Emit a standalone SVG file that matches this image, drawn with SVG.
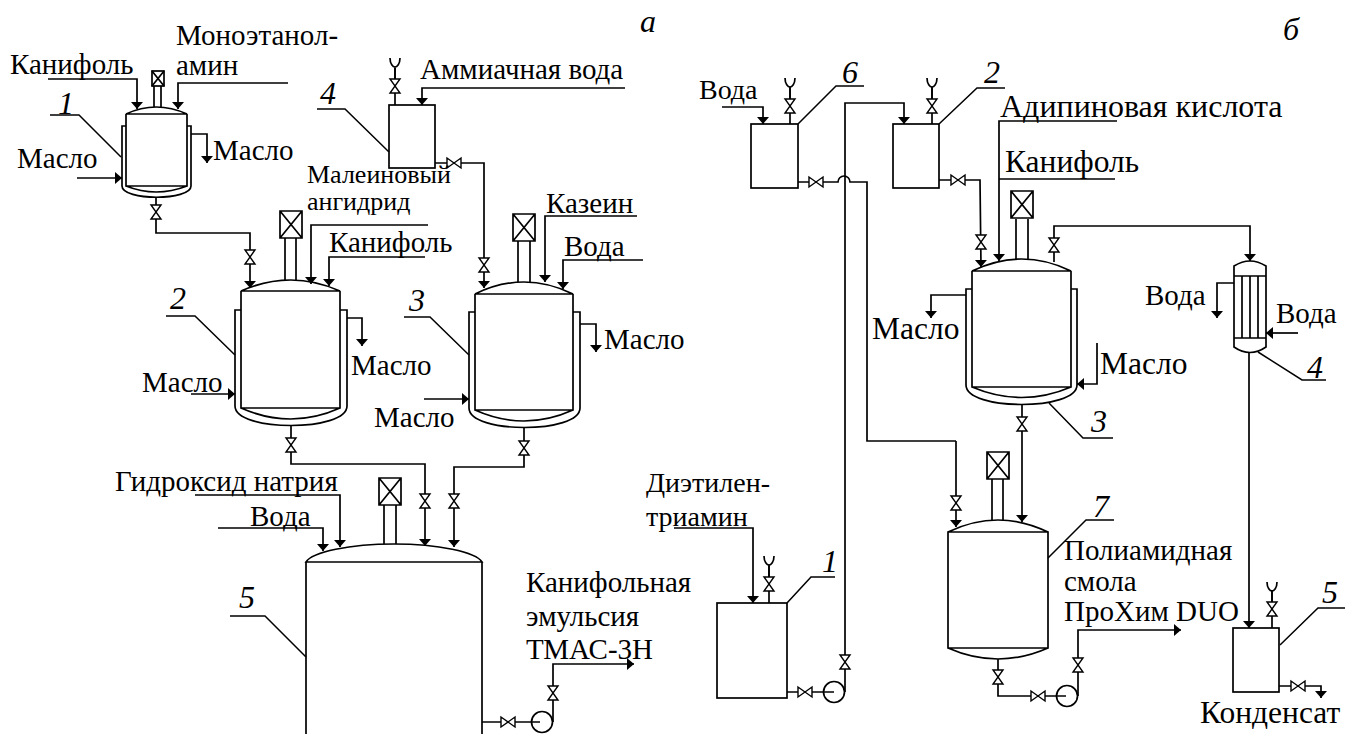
<svg xmlns="http://www.w3.org/2000/svg" width="1359" height="734" viewBox="0 0 1359 734">
<style>
text{font-family:"Liberation Serif","Times New Roman",serif;font-size:29px;fill:#000}
.n{font-style:italic;font-size:32px}
.m{font-size:26px}
.s{font-size:28px}
.l{font-size:31.5px}
path,rect,line,circle{fill:none;stroke:#000;stroke-width:1.7}
.a{marker-end:url(#ah)}
.t{stroke-width:1.5}
.v path{fill:#fff;stroke-width:1.4}
</style>
<defs>
<marker id="ah" markerUnits="userSpaceOnUse" markerWidth="14" markerHeight="14" refX="8" refY="7" orient="auto"><path d="M1 1L8 7L1 13Z" style="fill:#000;stroke:none"/></marker>
<g id="vv" class="v"><path d="M-5-7H5L-5 7H5Z"/></g>
<g id="hv" class="v"><path d="M-7-5V5L7-5V5Z"/></g>
<g id="fn"><path d="M-5 0C-5 6 -2 9 0 9C2 9 5 6 5 0M0 9V34"/></g>
<g id="mix"><path d="M-11 0H11V27H-11ZM-11 0L11 27M11 0L-11 27"/></g>
</defs>

<g id="legend">
<text class="n" x="640" y="32">а</text>
<text class="n" x="1283" y="40">б</text>
</g>

<g id="connectors">
<path class="a" d="M48 79H137V109"/>
<path class="a" d="M288 83H178V109"/>
<path class="a" d="M191 134H207V163"/>
<path class="a" d="M77 178H122"/>
<path class="a" d="M156 197V233H250V288"/>
<path class="a" d="M625 88H422V105"/>
<path d="M395 68V105"/>
<path class="a" d="M435 163H484V288"/>
<path class="a" d="M428 225H311V284"/>
<path class="a" d="M425 257H329V286"/>
<path class="a" d="M347 318H362V346"/>
<path class="a" d="M191 394H235"/>
<path class="a" d="M637 216H545V282"/>
<path class="a" d="M643 260H563V289"/>
<path class="a" d="M580 324H596V352"/>
<path class="a" d="M424 399H469"/>
<path class="a" d="M291 426V464H425V546"/>
<path class="a" d="M524 428V467H454V547"/>
<path class="a" d="M195 495H340V547"/>
<path class="a" d="M218 528H323V551"/>
<path d="M482 722H540"/>
<path class="a" d="M553 722V664H634"/>

<path class="a" d="M722 107H763V124"/>
<path class="a" d="M845 692V103H904V124"/>
<path d="M798 182H838A6 6 0 0 1 850 182H867V441H956"/>
<path class="a" d="M956 441V527"/>
<path class="a" d="M939 180H980L981 267"/>
<path class="a" d="M1117 121H999V261"/>
<path d="M999 179H1115"/>
<path class="a" d="M966 295H931V318"/>
<path class="a" d="M1054 262V226H1250V261"/>
<path class="a" d="M1097 343V384H1077"/>
<path class="a" d="M1022 405V522"/>
<path class="a" d="M1234 283H1217V318"/>
<path class="a" d="M1298 333H1266"/>
<path class="a" d="M1249 353V628"/>
<path class="a" d="M674 528H753V603"/>
<path d="M787 692H834"/>
<path d="M998 659V696H1066"/>
<path class="a" d="M1078 696V630H1181"/>
<path class="a" d="M1279 686H1321V698"/>
<path d="M769 565V603"/>
<path d="M932 87V124"/>
<path d="M790 87V124"/>
<path d="M1272 590V628"/>

<use href="#vv" x="156" y="212"/><use href="#vv" x="250" y="257"/>
<use href="#hv" x="454" y="163"/><use href="#vv" x="484" y="265"/>
<use href="#vv" x="291" y="445"/><use href="#vv" x="524" y="448"/>
<use href="#vv" x="425" y="501"/><use href="#vv" x="454" y="501"/>
<use href="#hv" x="508" y="722"/><use href="#vv" x="553" y="693"/>
<use href="#fn" x="395" y="58"/><use href="#vv" x="395" y="86"/>

<use href="#fn" x="790" y="78"/><use href="#vv" x="790" y="106"/>
<use href="#fn" x="932" y="78"/><use href="#vv" x="932" y="106"/>
<use href="#hv" x="816" y="182"/><use href="#hv" x="958" y="180"/>
<use href="#vv" x="981" y="242"/><use href="#vv" x="1054" y="245"/>
<use href="#vv" x="1022" y="424"/><use href="#vv" x="956" y="503"/>
<use href="#vv" x="845" y="662"/><use href="#hv" x="805" y="692"/>
<use href="#fn" x="769" y="556"/><use href="#vv" x="769" y="584"/>
<use href="#vv" x="998" y="677"/><use href="#hv" x="1038" y="696"/>
<use href="#vv" x="1078" y="665"/>
<use href="#fn" x="1272" y="582"/><use href="#vv" x="1272" y="609"/>
<use href="#hv" x="1298" y="686"/>
</g>

<g id="vessel-a1">
<path d="M126 114Q156 100 187 114ZM126 114V186H187V114M126 186Q156 198 187 186"/>
<path d="M126 126H122V186C122 201 191 201 191 186V126H187"/>
<rect x="152" y="71" width="12" height="15"/><path d="M152 71L164 86M164 71L152 86M154 86V107M161 86V107"/>
<path class="t" d="M50 115H79L121 157"/>
<text x="10" y="74">Канифоль</text>
<text x="176" y="45">Моноэтанол-</text>
<text x="176" y="75">амин</text>
<text x="17" y="168">Масло</text>
<text x="213" y="160">Масло</text>
<text class="n" x="58" y="114">1</text>
</g>

<g id="vessel-a2">
<path d="M241 291Q291 269 340 291ZM241 291V408H340V291M241 408Q291 430 340 408"/>
<path d="M241 310H235V406C235 432 347 432 347 406V310H340"/>
<use href="#mix" x="291" y="211"/>
<path d="M285 238V280M296 238V280"/>
<path class="t" d="M166 316H195L235 355"/>
<text class="n" x="170" y="309">2</text>
<text x="351" y="375">Масло</text>
<text x="142" y="392">Масло</text>
<text x="329" y="252">Канифоль</text>
<text class="m" x="307" y="183">Малеиновый</text>
<text class="m" x="307" y="210">ангидрид</text>
</g>

<g id="vessel-a3">
<path d="M475 294Q524 270 573 294ZM475 294V410H573V294M475 410Q524 432 573 410"/>
<path d="M475 312H469V408C469 434 580 434 580 408V312H573"/>
<use href="#mix" x="524" y="214"/>
<path d="M518 241V282M530 241V282"/>
<path class="t" d="M404 317H430L469 355"/>
<text class="n" x="409" y="311">3</text>
<text x="604" y="349">Масло</text>
<text x="374" y="427">Масло</text>
<text x="546" y="213">Казеин</text>
<text x="564" y="256">Вода</text>
</g>

<g id="vessel-a4">
<rect x="389" y="105" width="46" height="63"/>
<path class="t" d="M317 109H345L389 152"/>
<text class="n" x="320" y="104">4</text>
<text x="420" y="79">Аммиачная вода</text>
</g>

<g id="vessel-a5">
<path d="M306 562C312 552 350 544 394 544C438 544 476 552 482 562ZM306 562V734M482 562V734"/>
<use href="#mix" x="390" y="478"/>
<path d="M384 505V544M396 505V544"/>
<path class="t" d="M230 616H265L306 657"/>
<text class="n" x="239" y="608">5</text>
<text x="115" y="491">Гидроксид натрия</text>
<text x="250" y="526">Вода</text>
<text x="526" y="592">Канифольная</text>
<text x="526" y="626">эмульсия</text>
<text x="526" y="659">ТМАС-3Н</text>
</g>

<g id="pump-a"><circle cx="542" cy="722" r="10.5"/></g>

<g id="vessel-b6">
<rect x="751" y="124" width="47" height="64"/>
<path class="t" d="M798 124L836 86H864"/>
<text class="n" x="842" y="83">6</text>
<text class="s" x="699" y="99">Вода</text>
</g>

<g id="vessel-b2">
<rect x="893" y="124" width="46" height="64"/>
<path class="t" d="M939 124L977 88H1005"/>
<text class="n" x="984" y="83">2</text>
<text class="l" x="1000" y="117" style="font-size:32px">Адипиновая кислота</text>
<text class="l" x="1005" y="172">Канифоль</text>
</g>

<g id="vessel-b3">
<path d="M972 271Q1022 247 1071 271ZM972 271V387H1071V271M972 387Q1022 408 1071 387"/>
<path d="M972 289H966V385C966 411 1077 411 1077 385V289H1071"/>
<use href="#mix" x="1022" y="191"/>
<path d="M1016 219V259M1028 219V259"/>
<path class="t" d="M1049 403L1083 438H1113"/>
<text class="n" x="1091" y="432">3</text>
<text class="l" x="872" y="339">Масло</text>
<text class="l" x="1100" y="374">Масло</text>
</g>

<g id="condenser-b4">
<path d="M1234 276V266Q1250 256 1266 266V276M1234 276H1266M1234 338H1266M1234 276V338M1266 276V338M1234 338V347Q1250 358 1266 347V338"/>
<path d="M1242 276V338M1250 276V338M1258 276V338"/>
<path class="t" d="M1258 352L1302 380H1326"/>
<text class="n" x="1307" y="378">4</text>
<text x="1145" y="305">Вода</text>
<text x="1276" y="323">Вода</text>
</g>

<g id="vessel-b1">
<rect x="717" y="603" width="70" height="95"/>
<path class="t" d="M787 603L811 577H835"/>
<text class="n" x="822" y="572">1</text>
<text class="s" x="646" y="492">Диэтилен-</text>
<text class="s" x="646" y="526">триамин</text>
</g>

<g id="pump-b1"><circle cx="834" cy="692" r="10.5"/></g>

<g id="vessel-b7">
<path d="M948 532Q998 508 1048 532ZM948 532V648H1048V532ZM948 648Q998 670 1048 648"/>
<use href="#mix" x="998" y="452"/>
<path d="M992 479V520M1003 479V520"/>
<path class="t" d="M1048 558L1086 520H1114"/>
<text class="n" x="1093" y="517">7</text>
<text x="1064" y="560">Полиамидная</text>
<text x="1064" y="591">смола</text>
<text x="1064" y="621">ПроХим DUO</text>
</g>

<g id="pump-b7"><circle cx="1067" cy="696" r="10.5"/></g>

<g id="vessel-b5">
<rect x="1233" y="628" width="46" height="64"/>
<path class="t" d="M1280 645L1318 608H1345"/>
<text class="n" x="1322" y="603">5</text>
<text class="l" x="1200" y="723">Конденсат</text>
</g>
</svg>
